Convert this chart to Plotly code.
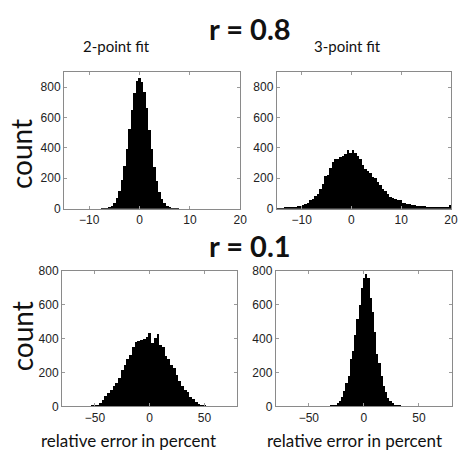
import plotly.graph_objects as go

W, H = 461, 460

# ---- r = 0.8, 2-point fit (bin width 0.5) ----
tl_centers = [-7.5, -7.0, -6.5, -6.0, -5.5, -5.0, -4.5, -4.0, -3.5, -3.0, -2.5, -2.0, -1.5, -1.0, -0.5,
              0.0, 0.5, 1.0, 1.5, 2.0, 2.5, 3.0, 3.5, 4.0, 4.5, 5.0, 5.5, 6.0, 6.5, 7.0, 7.5]
tl_counts = [1, 2, 4, 10, 20, 38, 69, 117, 187, 281, 396, 525, 653, 763, 838,
             862, 832, 770, 660, 520, 392, 275, 182, 112, 66, 36, 18, 9, 4, 2, 1]

# ---- r = 0.8, 3-point fit (bin width 0.5) ----
tr_centers = [-14.75 + 0.5 * i for i in range(70)]
tr_counts = [2, 3, 3, 5, 6, 8, 10, 12, 15, 20, 25, 32, 40, 55, 62, 85, 100, 130, 160, 215,
             225, 265, 310, 325, 330, 340, 350, 360, 385, 365, 385, 370, 345, 330, 290, 260, 245, 235, 210, 200,
             175, 155, 130, 115, 95, 80, 70, 62, 58, 55, 40, 36, 33, 30, 24, 22, 21, 20, 18, 17,
             14, 12, 11, 10, 9, 9, 8, 7, 7, 22]

# ---- r = 0.1, 2-point fit (bin width 2.5) ----
bl_centers = [-57.5 + 2.5 * i for i in range(47)]
bl_counts = [2, 3, 5, 8, 12, 20, 40, 62, 80, 100, 122, 140, 168, 215, 245, 280, 305, 350, 380, 385,
             395, 400, 410, 436, 378, 405, 430, 365, 350, 300, 280, 245, 230, 185, 150, 125, 100, 85, 60, 45,
             30, 18, 12, 6, 4, 2, 1]

# ---- r = 0.1, 3-point fit (bin width 2) ----
br_centers = [-36 + 2 * i for i in range(37)]
br_counts = [1, 2, 3, 5, 8, 12, 20, 35, 55, 90, 140, 180, 280, 330, 420, 520, 600, 700, 760,
             785, 760, 640, 560, 440, 310, 260, 180, 120, 85, 50, 35, 20, 13, 8, 5, 3, 2]

panels = [
    # (centers, counts, width, x-range, y-range, xticks, yticks, box [left, top, right, bottom] px)
    (tl_centers, tl_counts, 0.5, [-15, 20], [0, 900], [-10, 0, 10, 20], [0, 200, 400, 600, 800], [65, 67, 244, 208]),
    (tr_centers, tr_counts, 0.5, [-15, 20], [0, 900], [-10, 0, 10, 20], [0, 200, 400, 600, 800], [281, 67, 458, 208]),
    (bl_centers, bl_counts, 2.5, [-80, 80], [0, 800], [-50, 0, 50], [0, 200, 400, 600, 800], [63, 272, 241, 412]),
    (br_centers, br_counts, 2.0, [-80, 80], [0, 800], [-50, 0, 50], [0, 200, 400, 600, 800], [280, 272, 459, 412]),
]

fig = go.Figure()
layout = {}
for i, (cx, cy, w, xr, yr, xt, yt, box) in enumerate(panels, start=1):
    xa = "x" if i == 1 else f"x{i}"
    ya = "y" if i == 1 else f"y{i}"
    fig.add_trace(go.Bar(x=cx, y=cy, width=w, marker=dict(color="black", line=dict(width=0)),
                         xaxis=xa, yaxis=ya, showlegend=False, hoverinfo="skip"))
    l, t, r, b = box
    common = dict(showgrid=False, zeroline=False, showline=True, linecolor="#8a8a8a", linewidth=1,
                  mirror="ticks", ticks="inside", ticklen=3, tickcolor="#9a9a9a",
                  tickfont=dict(family="Liberation Sans, Arial", size=12, color="#222"))
    layout["xaxis" if i == 1 else f"xaxis{i}"] = dict(
        domain=[l / W, r / W], range=xr, tickvals=xt, anchor=ya, **common)
    layout["yaxis" if i == 1 else f"yaxis{i}"] = dict(
        domain=[1 - b / H, 1 - t / H], range=yr, tickvals=yt, anchor=xa, **common)


def label(text, px, py, size, bold=False, angle=0):
    return dict(text=f"<b>{text}</b>" if bold else text, x=px / W, y=1 - py / H,
                xref="paper", yref="paper", xanchor="center", yanchor="middle",
                showarrow=False, textangle=angle,
                font=dict(family="Lato, Open Sans, sans-serif", size=size, color="#111"))


annotations = [
    label("r = 0.8", 254, 22, 29, bold=True),
    label("r = 0.1", 254, 246, 29, bold=True),
    label("2-point fit", 118, 40, 15),
    label("3-point fit", 353, 40, 15),
    label("count", 22, 152, 28, angle=-90),
    label("count", 22, 340, 28, angle=-90),
    label("relative error in percent", 130, 447, 17),
    label("relative error in percent", 360, 447, 17),
]

fig.update_layout(width=W, height=H, margin=dict(l=0, r=0, t=0, b=0),
                  paper_bgcolor="white", plot_bgcolor="white", bargap=0,
                  annotations=annotations, **layout)

fig.write_html("out.html")
